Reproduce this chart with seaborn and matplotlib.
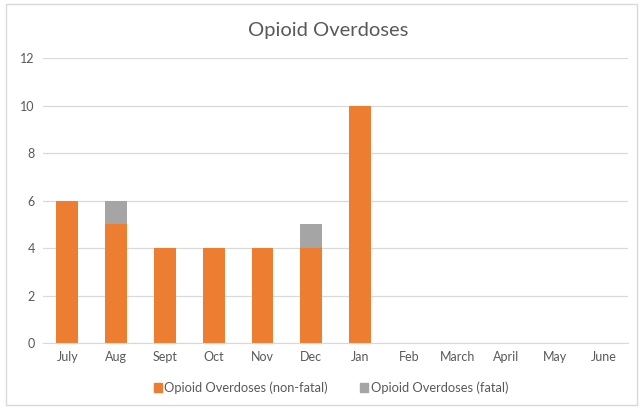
import pandas as pd
import seaborn as sns
import matplotlib.pyplot as plt
from matplotlib.patches import Rectangle, Patch

months = ['July', 'Aug', 'Sept', 'Oct', 'Nov', 'Dec', 'Jan',
          'Feb', 'March', 'April', 'May', 'June']
non_fatal = [6, 5, 4, 4, 4, 4, 10, 0, 0, 0, 0, 0]
fatal = [0, 1, 0, 0, 0, 1, 0, 0, 0, 0, 0, 0]

orange = '#ED7D31'
gray = '#A5A5A5'
text_col = '#595959'

df = pd.DataFrame({'month': months, 'non_fatal': non_fatal, 'fatal': fatal})
df['total'] = df['non_fatal'] + df['fatal']

sns.set_style('white')
plt.rcParams['font.family'] = ['Lato', 'DejaVu Sans']

fig = plt.figure(figsize=(6.43, 4.09), dpi=100)
ax = fig.add_axes([0.067, 0.161, 0.91, 0.697])

# stacked: draw total in gray, then non-fatal over it in orange
sns.barplot(data=df, x='month', y='total', color=gray, width=0.45,
            saturation=1, linewidth=0, ax=ax, order=months)
sns.barplot(data=df, x='month', y='non_fatal', color=orange, width=0.45,
            saturation=1, linewidth=0, ax=ax, order=months)

ax.set_ylim(0, 12)
ax.set_yticks(range(0, 13, 2))
ax.set_xlim(-0.5, len(months) - 0.5)
ax.yaxis.grid(True, color='#D9D9D9', linewidth=0.9)
ax.set_axisbelow(True)
for s in ['top', 'right', 'left']:
    ax.spines[s].set_visible(False)
ax.spines['bottom'].set_color('#D9D9D9')
ax.tick_params(axis='both', length=0, labelsize=9, colors=text_col, pad=6)
ax.set_xlabel('')
ax.set_ylabel('')

fig.text(0.51, 0.925, 'Opioid Overdoses', ha='center', va='center',
         fontsize=14.5, color=text_col)

handles = [Patch(color=orange, label='Opioid Overdoses (non-fatal)'),
           Patch(color=gray, label='Opioid Overdoses (fatal)')]
fig.legend(handles=handles, loc='center', bbox_to_anchor=(0.515, 0.052), ncol=2,
           frameon=False, fontsize=9.3, labelcolor=text_col, handlelength=0.6,
           handleheight=0.6, handletextpad=0.2, columnspacing=2.5)

fig.patches.append(Rectangle((6 / 643, 4 / 409), 631 / 643, 401 / 409,
                             transform=fig.transFigure, fill=False,
                             edgecolor='#D9D9D9', linewidth=1))

fig.savefig('out.png', dpi=100, facecolor='white')
